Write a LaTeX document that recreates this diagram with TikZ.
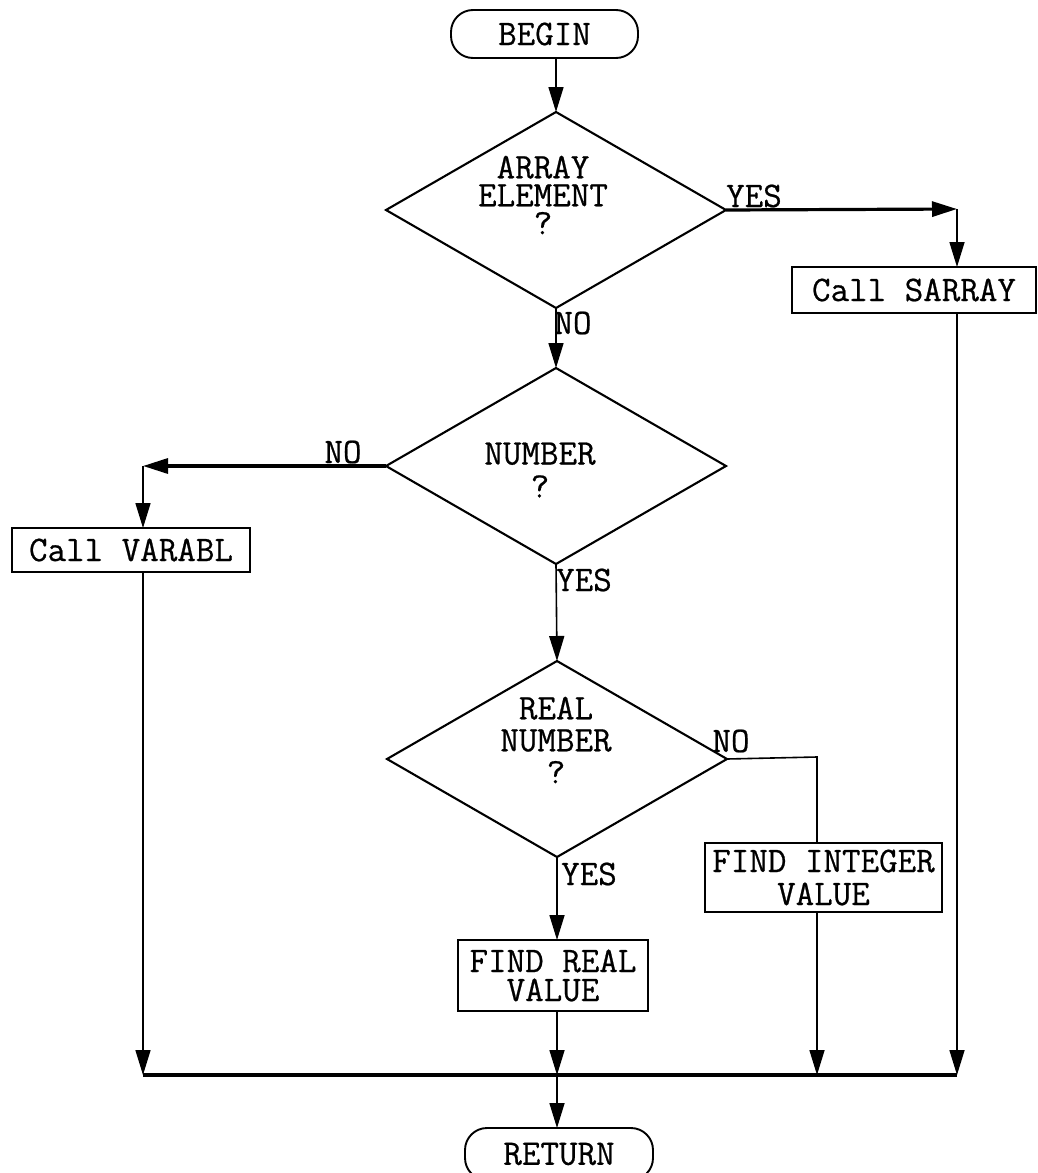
\documentclass[tikz,border=0pt]{standalone}
\usepackage{fontspec}
\setmonofont[FakeBold=0.6]{Latin Modern Mono}
\usetikzlibrary{arrows.meta,shapes.geometric}
\tikzset{
  txt/.style={font=\ttfamily\fontsize{36}{#1}\selectfont, align=center, inner sep=0pt},
  txt/.default=31,
  dia/.style={draw, shape=diamond, minimum width=340pt, minimum height=196pt, inner sep=0pt, outer sep=0pt, line width=2.1pt},
  box/.style={draw, rectangle, inner sep=0pt, outer sep=0pt, line width=2.1pt, txt=#1},
  box/.default=31,
  term/.style={draw, rectangle, rounded corners=22pt, inner sep=0pt, outer sep=0pt, line width=1.9pt, txt},
  thin/.style={line width=1.6pt},
  thickline/.style={line width=3.2pt},
  tip/.style={-{Triangle[length=25pt,width=15pt]}},
}
\begin{document}
\begin{tikzpicture}[x=1pt,y=-1pt]
\useasboundingbox (0,0) rectangle (1038,1173);
\clip (0,0) rectangle (1038,1173);

% terminals
\node[term, minimum width=187pt, minimum height=48pt] (begin) at (544.5,34) {BEGIN};
\node[term, minimum width=188pt, minimum height=52pt] (ret) at (559,1154) {RETURN};

% decisions
\node[dia] (d1) at (556,210) {};
\node[txt=28] (d1t) at (543,195) {ARRAY\\ELEMENT\\?};
\node[dia] (d2) at (556,466) {};
\node[txt=33] (d2t) at (540,470) {NUMBER\\?};
\node[dia] (d3) at (557,759) {};
\node[txt=32] (d3t) at (556,740) {REAL\\NUMBER\\?};

% process boxes
\node[box, minimum width=244pt, minimum height=46pt] (sa) at (914,290) {Call SARRAY};
\node[box, minimum width=238pt, minimum height=44pt] (va) at (131,550) {Call VARABL};
\node[box=33, minimum width=237pt, minimum height=69pt] (fi) at (823.5,877.5) {FIND INTEGER\\VALUE};
\node[box=29, minimum width=190pt, minimum height=71pt] (fr) at (553,975.5) {FIND REAL\\VALUE};

% branch corners and junctions
\coordinate (cs) at (957,209);
\coordinate (cv) at (143,466);
\coordinate (ci) at (817,757);
\coordinate (jl) at (143,1075);
\coordinate (jr) at (957,1075);

% labels
\node[txt] (l1y) at (754,196) {YES};
\node[txt] (l1n) at (573,323) {NO};
\node[txt] (l2n) at (343,452) {NO};
\node[txt] (l2y) at (584,580) {YES};
\node[txt] (l3n) at (731,741) {NO};
\node[txt] (l3y) at (589,874) {YES};

% connectors
\draw[thin, tip] (begin.south -| d1.north) -- (d1.north);
\draw[thickline, tip] (d1.east) -- (cs);
\draw[thin, tip] (cs) -- (cs |- sa.north);
\draw[thin, tip] (sa.south -| cs) -- (jr);
\draw[thin, tip] (d1.south) -- (d2.north);
\draw[thickline, tip] (d2.west) -- (cv);
\draw[thin, tip] (cv) -- (cv |- va.north);
\draw[thin, tip] (va.south -| cv) -- (jl);
\draw[thin, tip] (d2.south) -- (d3.north);
\draw[thin] (d3.east) -- (ci) -- (ci |- fi.north);
\draw[thin, tip] (fi.south -| ci) -- (ci |- jr);
\draw[thin, tip] (d3.south) -- (d3.south |- fr.north);
\draw[thin, tip] (fr.south -| d3.south) -- (d3.south |- jl);
\draw[thickline] (jl) -- (jr);
\draw[thin, tip] (d3.south |- jl) -- (ret.north -| d3.south);
\end{tikzpicture}
\end{document}
